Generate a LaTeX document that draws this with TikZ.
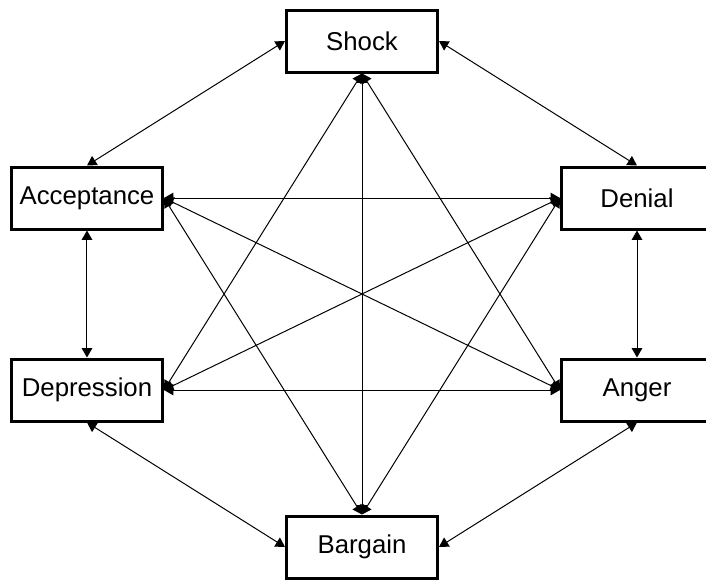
\documentclass[tikz,border=0pt]{standalone}
\usepackage{fontspec}
\setmainfont{Liberation Sans}
\usepackage{tikz}
\usetikzlibrary{arrows.meta}

\begin{document}
\begin{tikzpicture}[node distance=4.71cm]
\tikzstyle{stage} = [rectangle, minimum width=4.53cm, minimum height=1.86cm, text centered, line width=0.09cm, draw=black, fill=white, font=\fontsize{22}{26}\selectfont]
\tikzstyle{arrow} = [line width=0.85pt, <->, >={Triangle[length=8pt, width=9pt]}]

\clip (-10.86,1.23) rectangle (10.32,-16.17);

\node (shock) [stage] {Shock};
\node (accept) [stage, below of=shock, xshift=-8.25cm] {Acceptance};
\node (denial) [stage, below of=shock, xshift=8.25cm] {Denial};
\node (depress) [stage, below of=accept, yshift=-1.05cm] {Depression};
\node (anger) [stage, below of=denial, yshift=-1.05cm] {Anger};
\node (bargain) [stage, below of=depress, xshift=8.25cm] {Bargain};

% outer ring
\draw [arrow] (shock.west) -- (accept.north);
\draw [arrow] (shock.east) -- (denial.north);
\draw [arrow] (accept.south) -- (depress.north);
\draw [arrow] (denial.south) -- (anger.north);
\draw [arrow] (depress.south) -- (bargain.west);
\draw [arrow] (anger.south) -- (bargain.east);

% cross links
\draw [arrow] (shock.south) -- (depress.east);
\draw [arrow] (shock.south) -- (bargain.north);
\draw [arrow] (shock.south) -- (anger.west);
\draw [arrow] (accept.east) -- (denial.west);
\draw [arrow] (accept.east) -- (anger.west);
\draw [arrow] (accept.east) -- (bargain.north);
\draw [arrow] (denial.west) -- (depress.east);
\draw [arrow] (denial.west) -- (bargain.north);
\draw [arrow] (depress.east) -- (anger.west);
\end{tikzpicture}
\end{document}
